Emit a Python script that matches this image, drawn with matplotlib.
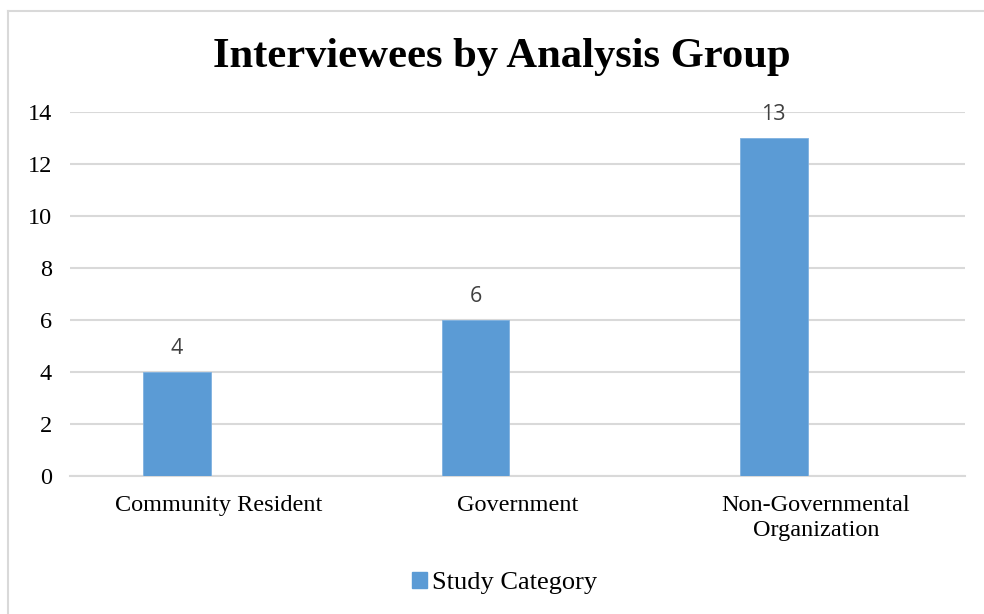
import matplotlib
matplotlib.use("Agg")
import matplotlib.pyplot as plt
from matplotlib.lines import Line2D
from matplotlib.patches import Patch
import numpy as np

categories = ["Community Resident", "Government", "Non-Governmental\nOrganization"]
counts = [4, 6, 13]
series_name = "Study Category"
y_ticks = [0, 2, 4, 6, 8, 10, 12, 14]

W, H = 984, 614
fig = plt.figure(figsize=(W / 100, H / 100), dpi=100)
serif = ["Liberation Serif", "DejaVu Serif"]

# plot area in pixel coords
left, right, top, bottom = 70, 965, 111.7, 475.5
ax = fig.add_axes([left / W, 1 - bottom / H, (right - left) / W, (bottom - top) / H])

x = np.arange(len(categories))
bar_color = "#5b9bd5"
bars = ax.bar(x - 0.141, counts, width=0.227, color=bar_color,
              edgecolor="#7fb1e0", linewidth=0.6, zorder=3)

for b, v in zip(bars, counts):
    ax.text(b.get_x() + b.get_width() / 2, v + 0.5, str(v), ha="center", va="bottom",
            fontsize=15.5, color="#404040", family=["Open Sans", "DejaVu Sans"])

ax.set_xlim(-0.5, len(categories) - 0.5)
ax.set_ylim(0, 14)
ax.set_yticks(y_ticks)
ax.set_yticklabels([str(t) for t in y_ticks], family=serif, fontsize=17.5)
ax.set_xticks(x)
ax.set_xticklabels(categories, family=serif, fontsize=17.5, linespacing=1.25)
ax.tick_params(axis="both", length=0, colors="black")
ax.tick_params(axis="y", pad=13)
ax.tick_params(axis="x", pad=14)
ax.grid(axis="y", color="#d9d9d9", linewidth=1.5, zorder=0)
for s in ["top", "right", "left"]:
    ax.spines[s].set_visible(False)
ax.spines["bottom"].set_color("#d9d9d9")
ax.spines["bottom"].set_linewidth(1.5)

fig.text(502 / W, 1 - 57 / H, "Interviewees by Analysis Group", ha="center", va="center",
         fontsize=30.7, fontweight="bold", family=serif)

# legend
handle = Patch(facecolor=bar_color, edgecolor=bar_color)
fig.legend([handle], [series_name], loc="center", bbox_to_anchor=(0.513, 1 - 583 / H),
           frameon=False, prop={"family": serif, "size": 19},
           handlelength=0.57, handleheight=0.57, handletextpad=0.2)

# chart frame (top and left edges)
fig.add_artist(Line2D([8 / W, 1], [1 - 11 / H, 1 - 11 / H], color="#d9d9d9", linewidth=1.5))
fig.add_artist(Line2D([8 / W, 8 / W], [0, 1 - 11 / H], color="#d9d9d9", linewidth=1.5))

fig.savefig("out.png", dpi=100)
